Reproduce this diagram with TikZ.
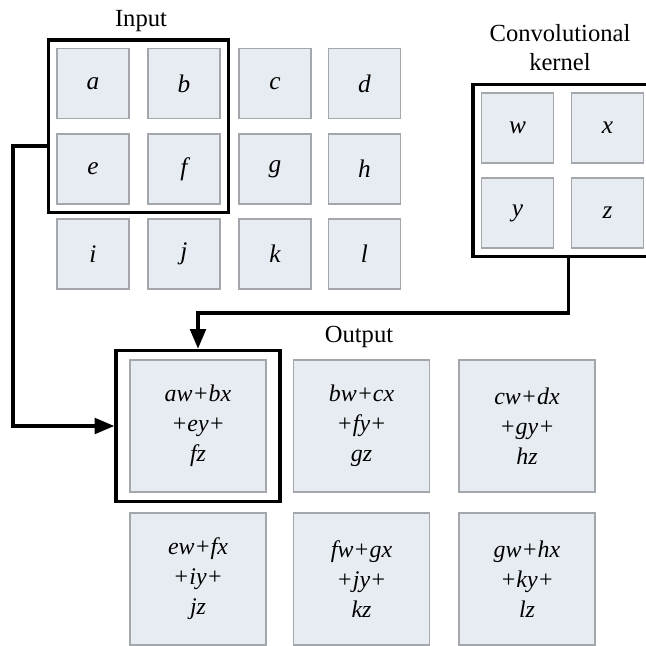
\documentclass[tikz,border=0pt]{standalone}
\usepackage{fontspec}
\setmainfont{Liberation Serif}
\usetikzlibrary{arrows.meta,positioning,fit}
\definecolor{cellfill}{HTML}{E7EBF2}
\definecolor{celldraw}{HTML}{A3A6AB}

\begin{document}
\begin{tikzpicture}[
  x=0.025cm, y=-0.025cm,
  every node/.style={font=\fontsize{17.5}{20}\selectfont},
  incell/.style={draw=celldraw, fill=cellfill, line width=0.8pt,
    minimum width=1.8cm, minimum height=1.75cm, inner sep=0pt, font=\fontsize{18}{20}\selectfont\itshape},
  outcell/.style={draw=celldraw, fill=cellfill, line width=0.8pt,
    minimum width=3.4cm, minimum height=3.3cm, inner sep=0pt, align=center,
    font=\fontsize{17}{21.3}\selectfont\itshape},
  frame/.style={draw, line width=2.6pt, inner sep=0.2cm},
  link/.style={draw, line width=2.6pt, -{Triangle[length=14pt,width=11pt]}},
]
\useasboundingbox (0,0) rectangle (646,646);

% Input matrix
\node[incell] (a) at (93,83.5) {a};
\node[incell] (b) at (184,83.5) {b};
\node[incell] (c) at (275,83.5) {c};
\node[incell] (d) at (364.5,83.5) {d};
\node[incell] (e) at (93,169) {e};
\node[incell] (f) at (184,169) {f};
\node[incell] (g) at (275,169) {g};
\node[incell] (h) at (364.5,169) {h};
\node[incell] (i) at (93,254) {i};
\node[incell] (j) at (184,254) {j};
\node[incell] (k) at (275,254) {k};
\node[incell] (l) at (364.5,254) {l};
\node[frame, fit=(a)(f)] (inbox) {};
\node[anchor=base] (inlabel) at (141,26) {Input};

% Kernel
\node[incell] (w) at (517.5,128) {w};
\node[incell] (x) at (607.5,128) {x};
\node[incell] (y) at (517.5,213) {y};
\node[incell] (z) at (607.5,213) {z};
\node[frame, fit=(w)(z)] (kbox) {};
\node[anchor=base, align=center, font=\fontsize{17.5}{20}\selectfont] (klabel) at (560,70) {Convolutional\\kernel};

% Output matrix
\node[outcell] (o1) at (198,426) {aw+bx\\+ey+\\fz};
\node[outcell] (o2) at (361.5,426) {bw+cx\\+fy+\\gz};
\node[outcell] (o3) at (527,426) {cw+dx\\+gy+\\hz};
\node[outcell] (o4) at (198,579) {ew+fx\\+iy+\\jz};
\node[outcell] (o5) at (361.5,579) {fw+gx\\+jy+\\kz};
\node[outcell] (o6) at (527,579) {gw+hx\\+ky+\\lz};
\node[frame, inner xsep=0.33cm, inner ysep=0.22cm, fit=(o1)] (outbox) {};
\node[anchor=base] (outlabel) at (359,342) {Output};

% Connectors
\coordinate (kturn) at ([xshift=0.15cm]kbox.south |- 0,313);
\draw[link] ([xshift=0.15cm]kbox.south) -- (kturn) -| (outbox.north);
\coordinate (iturn) at (13,146);
\draw[link] (inbox.west |- iturn) -- (iturn) |- (outbox.west);

\end{tikzpicture}
\end{document}
